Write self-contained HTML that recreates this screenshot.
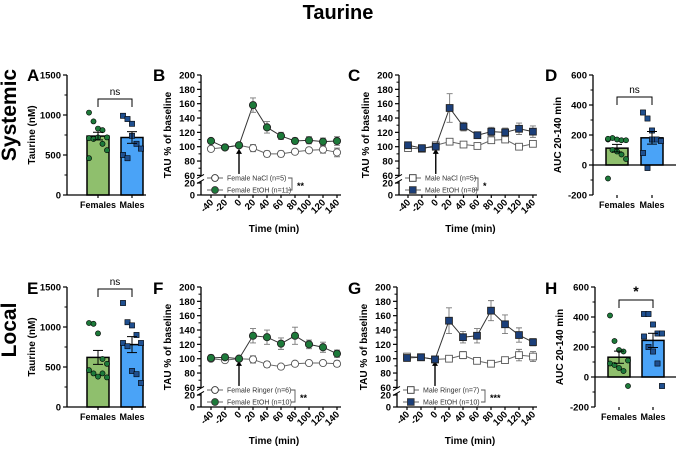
<!DOCTYPE html>
<html><head><meta charset="utf-8"><style>
body{margin:0;background:#fff;}
svg{font-family:"Liberation Sans",Arial,sans-serif;font-weight:bold;}
</style></head><body>
<svg id="fig" width="676" height="448" viewBox="0 0 676 448" xmlns="http://www.w3.org/2000/svg">
<text x="338" y="19" text-anchor="middle" font-size="20">Taurine</text>
<text transform="translate(16,115) rotate(-90)" text-anchor="middle" font-size="21">Systemic</text>
<text transform="translate(16,330) rotate(-90)" text-anchor="middle" font-size="21">Local</text>
</svg>
<script>
// ---- data ----
const times = [-40,-20,0,20,40,60,80,100,120,140];
const timeTicks = ["-40","-20","0","20","40","60","80","100","120","140"];
const barCats = ["Females","Males"];
const concTicks = [0,500,1000,1500];
const aucTicks = [-200,0,200,400,600];
const tauTicks = [60,80,100,120,140,160,180,200];

const A_fem = [1030,920,830,810,720,710,700,720,640,560,460];
const A_mal = [990,950,740,640,580,500,460,890];
const D_fem = [170,180,170,165,165,175,100,90,70,40,-90];
const D_mal = [350,310,230,170,160,80,-20,170];
const E_fem = [1050,1040,920,600,540,460,420,380,420,370];
const E_mal = [1300,1060,1020,900,800,800,760,450,410,300];
const H_fem = [410,240,180,170,110,90,80,60,40,-60];
const H_mal = [420,420,350,290,290,270,200,170,90,-60];

const B_ctl = [97,99,102,98,90,90,93,95,96,92];
const B_ctlErr = [3,2,2,5,4,4,3,3,5,6];
const B_eth = [108,99,102,158,127,115,108,109,107,108];
const B_ethErr = [3,2,2,10,8,5,4,5,5,6];
const C_ctl = [98,97,102,107,103,101,109,110,100,104];
const C_ctlErr = [3,3,3,3,3,3,4,4,4,4];
const C_eth = [102,98,100,154,128,116,121,120,125,121];
const C_ethErr = [3,2,3,20,6,4,6,6,8,8];
const F_ctl = [100,98,100,99,92,89,93,94,94,93];
const F_ctlErr = [3,3,3,5,4,3,3,3,3,4];
const F_eth = [101,102,100,132,130,121,132,120,116,107];
const F_ethErr = [4,3,3,10,10,8,12,6,7,5];
const G_ctl = [103,102,99,100,105,97,93,98,105,103];
const G_ctlErr = [4,3,3,4,5,3,3,4,8,7];
const G_eth = [101,102,99,153,130,132,167,148,133,123];
const G_ethErr = [3,3,3,18,8,10,14,13,10,5];

const svg = document.getElementById('fig');
const NS = 'http://www.w3.org/2000/svg';
function el(tag, attrs, parent, txt){
  const e = document.createElementNS(NS, tag);
  for (const k in attrs) e.setAttribute(k, attrs[k]);
  if (txt !== undefined) e.textContent = txt;
  (parent || svg).appendChild(e);
  return e;
}
function mean(a){return a.reduce((s,v)=>s+v,0)/a.length;}
function sem(a){const m=mean(a);return Math.sqrt(a.reduce((s,v)=>s+(v-m)*(v-m),0)/(a.length-1))/Math.sqrt(a.length);}

function panelLetter(x,y,t){
  const e = el('text',{x:x,y:y,'font-size':17},svg,t);
  
  
}

function barPanel(o){
  const g = el('g',{});
  
  
  const ys = v => o.yBot - (v - o.min)/(o.max - o.min)*(o.yBot - o.yTop);
  el('line',{x1:o.ax,y1:o.yTop,x2:o.ax,y2:o.yBot,stroke:'#000','stroke-width':1.3},g);
  o.ticks.forEach((t,i)=>{
    el('line',{x1:o.ax-4,y1:ys(t),x2:o.ax,y2:ys(t),stroke:'#000','stroke-width':1.2},g);
    const tl = el('text',{x:o.ax-6,y:ys(t)+3.5,'font-size':9.5,'text-anchor':'end'},g,String(t));
    
    
    if(i<o.ticks.length-1){
      const mid=(t+o.ticks[i+1])/2;
      el('line',{x1:o.ax-2.5,y1:ys(mid),x2:o.ax,y2:ys(mid),stroke:'#000','stroke-width':1},g);
    }
  });
  const yt = el('text',{transform:`translate(${o.ax-32},${(o.yTop+o.yBot)/2}) rotate(-90)`,'text-anchor':'middle','font-size':10},g,o.ytitle);
  
  
  const y0 = ys(0);
  const groups=[o.fem,o.mal];
  const fills=['#8fbf6d','#4aa3f7'];
  groups.forEach((d,i)=>{
    const cx=o.cx[i], m=mean(d), s=sem(d);
    const b = el('rect',{x:cx-11,y:Math.min(ys(m),y0),width:22,height:Math.abs(y0-ys(m)),fill:fills[i],stroke:'#000','stroke-width':1.5},g);
    
    
    d.forEach((v,j)=>{
      const jx = cx + ((j%5)-2)*4.5;
      if(i===0){
        const p=el('circle',{cx:jx,cy:ys(v),r:2.6,fill:'#1d7a3a',stroke:'#000','stroke-width':0.6},g);
        
        
      } else {
        const p=el('rect',{x:jx-2.6,y:ys(v)-2.6,width:5.2,height:5.2,fill:'#1f4f8f',stroke:'#000','stroke-width':0.6},g);
        
        
      }
    });
    el('line',{x1:cx,y1:ys(m-s),x2:cx,y2:ys(m+s),stroke:'#000','stroke-width':1},g);
    el('line',{x1:cx-5,y1:ys(m+s),x2:cx+5,y2:ys(m+s),stroke:'#000','stroke-width':1},g);
    el('line',{x1:cx-5,y1:ys(m-s),x2:cx+5,y2:ys(m-s),stroke:'#000','stroke-width':1},g);
    el('line',{x1:cx,y1:o.yBot,x2:cx,y2:o.yBot+3,stroke:'#000','stroke-width':1.2},g);
    const cl=el('text',{x:cx,y:o.yBot+13,'font-size':9,'text-anchor':'middle'},g,barCats[i]);
    
    
  });
  el('line',{x1:o.ax,y1:y0,x2:o.xEnd,y2:y0,stroke:'#000','stroke-width':1.3},g);
  const by=o.brY;
  el('path',{d:`M${o.cx[0]},${by+8} V${by} H${o.cx[1]} V${by+8}`,fill:'none',stroke:'#000','stroke-width':1},g);
  const st=el('text',{x:(o.cx[0]+o.cx[1])/2,y:by-4,'font-size':o.sig==='*'?14:10,'font-weight':o.sig==='*'?'bold':'normal','text-anchor':'middle'},g,o.sig);
  
  
}

function linePanel(o){
  const g = el('g',{});
  
  
  const yTop=o.yTop, yBot=o.yBot;
  const y60 = yTop + (200-60)*0.717;
  const ys = v => v>=60 ? yTop + (200-v)*0.717 : yBot - v*0.6;
  const xs = t => o.x0 + (t+40)*o.kx;
  el('line',{x1:o.ax,y1:yTop,x2:o.ax,y2:y60+1,stroke:'#000','stroke-width':1.3},g);
  el('line',{x1:o.ax,y1:y60+6,x2:o.ax,y2:yBot,stroke:'#000','stroke-width':1.3},g);
  el('line',{x1:o.ax-4,y1:y60+3,x2:o.ax+3,y2:y60-1,stroke:'#000','stroke-width':1},g);
  el('line',{x1:o.ax-4,y1:y60+8,x2:o.ax+3,y2:y60+4,stroke:'#000','stroke-width':1},g);
  tauTicks.concat([0,20]).forEach(t=>{
    el('line',{x1:o.ax-4,y1:ys(t),x2:o.ax,y2:ys(t),stroke:'#000','stroke-width':1.2},g);
    const tl=el('text',{x:o.ax-6,y:ys(t)+3.5,'font-size':9.5,'text-anchor':'end'},g,String(t));
    
    
  });
  for(let v=70; v<200; v+=20) el('line',{x1:o.ax-2.5,y1:ys(v),x2:o.ax,y2:ys(v),stroke:'#000','stroke-width':1},g);
  const yt=el('text',{transform:`translate(${o.ax-30},${(yTop+yBot)/2}) rotate(-90)`,'text-anchor':'middle','font-size':10},g,'TAU % of baseline');
  
  
  el('line',{x1:o.ax,y1:yBot,x2:xs(140)+4,y2:yBot,stroke:'#000','stroke-width':1.3},g);
  times.forEach((t,i)=>{
    el('line',{x1:xs(t),y1:yBot,x2:xs(t),y2:yBot+3,stroke:'#000','stroke-width':1.2},g);
    const tl=el('text',{transform:`translate(${xs(t)+3},${yBot+8}) rotate(-45)`,'font-size':9.5,'text-anchor':'end'},g,timeTicks[i]);
    
    
  });
  const xt=el('text',{x:(xs(-40)+xs(140))/2,y:yBot+37,'font-size':10,'text-anchor':'middle'},g,'Time (min)');
  
  
  const ax0=xs(0);
  el('line',{x1:ax0,y1:ys(62),x2:ax0,y2:ys(94),stroke:'#000','stroke-width':1.4},g);
  el('path',{d:`M${ax0-3},${ys(90)} L${ax0},${ys(97)} L${ax0+3},${ys(90)} Z`,fill:'#000'},g);
  const series=[{v:o.ctl,e:o.ctlErr,fill:'#fff',stroke:'#555',lc:'#666',n:'control'},{v:o.eth,e:o.ethErr,fill:o.col,stroke:'#222',lc:'#333',n:'etoh'}];
  series.forEach(s=>{
    const pts=times.map((t,i)=>xs(t)+','+ys(s.v[i])).join(' ');
    const pl=el('polyline',{points:pts,fill:'none',stroke:s.lc,'stroke-width':1},g);
    
    
    times.forEach((t,i)=>{
      const x=xs(t), y1=ys(s.v[i]+s.e[i]), y2=ys(s.v[i]-s.e[i]);
      el('path',{d:`M${x},${y1} V${y2} M${x-3},${y1} H${x+3} M${x-3},${y2} H${x+3}`,stroke:'#777','stroke-width':0.9,fill:'none'},g);
    });
    times.forEach((t,i)=>{
      let m;
      if(o.shape==='circle') m=el('circle',{cx:xs(t),cy:ys(s.v[i]),r:3.6,fill:s.fill,stroke:s.stroke,'stroke-width':0.9},g);
      else m=el('rect',{x:xs(t)-3.4,y:ys(s.v[i])-3.4,width:6.8,height:6.8,fill:s.fill,stroke:s.stroke,'stroke-width':0.9},g);
      
      
    });
  });
  const lx=o.ax+12, ly1=yBot-17, ly2=yBot-5;
  [[ly1,'#fff',o.leg[0]],[ly2,o.col,o.leg[1]]].forEach((L,k)=>{
    el('line',{x1:lx-6,y1:L[0],x2:lx+10,y2:L[0],stroke:'#666','stroke-width':1},g);
    if(o.shape==='circle') el('circle',{cx:lx+2,cy:L[0],r:3.4,fill:L[1],stroke:'#333','stroke-width':0.9},g);
    else el('rect',{x:lx-1.5,y:L[0]-3.3,width:6.6,height:6.6,fill:L[1],stroke:'#333','stroke-width':0.9},g);
    const lt=el('text',{x:lx+14,y:L[0]+2.7,'font-size':7,'font-weight':'normal',fill:'#333'},g,L[2]);
    
    
  });
  const bx=o.brX;
  el('path',{d:`M${bx-4},${ly1} H${bx} V${ly2} H${bx-4}`,fill:'none',stroke:'#555','stroke-width':0.9},g);
  const st=el('text',{x:bx+5,y:(ly1+ly2)/2+5,'font-size':9},g,o.sig);
  
  
}

panelLetter(27,81,'A'); panelLetter(153,81,'B'); panelLetter(348,81,'C'); panelLetter(545,81,'D');
panelLetter(27,294,'E'); panelLetter(153,294,'F'); panelLetter(348,294,'G'); panelLetter(545,294,'H');

barPanel({name:'panel-a-chart',ax:67,yTop:75,yBot:195,min:0,max:1500,ticks:concTicks,fem:A_fem,mal:A_mal,cx:[98,132],xEnd:146,ytitle:'Taurine (nM)',brY:99,sig:'ns'});
barPanel({name:'panel-d-chart',ax:593,yTop:75,yBot:195,min:-200,max:600,ticks:aucTicks,fem:D_fem,mal:D_mal,cx:[617,652],xEnd:676,ytitle:'AUC 20-140 min',brY:97,sig:'ns'});
barPanel({name:'panel-e-chart',ax:67,yTop:287,yBot:407,min:0,max:1500,ticks:concTicks,fem:E_fem,mal:E_mal,cx:[98,132],xEnd:146,ytitle:'Taurine (nM)',brY:289,sig:'ns'});
barPanel({name:'panel-h-chart',ax:595,yTop:287,yBot:407,min:-200,max:600,ticks:aucTicks,fem:H_fem,mal:H_mal,cx:[619,653],xEnd:676,ytitle:'AUC 20-140 min',brY:300,sig:'*'});

linePanel({name:'panel-b-chart',ax:201,yTop:75,yBot:195,x0:211,kx:0.7,ctl:B_ctl,ctlErr:B_ctlErr,eth:B_eth,ethErr:B_ethErr,col:'#1d7a3a',shape:'circle',leg:['Female NaCl (n=5)','Female EtOH (n=11)'],brX:292,sig:'**'});
linePanel({name:'panel-c-chart',ax:399,yTop:75,yBot:195,x0:408,kx:0.694,ctl:C_ctl,ctlErr:C_ctlErr,eth:C_eth,ethErr:C_ethErr,col:'#1b3f7a',shape:'square',leg:['Male NaCl (n=5)','Male EtOH (n=8)'],brX:478,sig:'*'});
linePanel({name:'panel-f-chart',ax:201,yTop:287,yBot:407,x0:211,kx:0.7,ctl:F_ctl,ctlErr:F_ctlErr,eth:F_eth,ethErr:F_ethErr,col:'#1d7a3a',shape:'circle',leg:['Female  Ringer (n=6)','Female EtOH (n=10)'],brX:295,sig:'**'});
linePanel({name:'panel-g-chart',ax:397,yTop:287,yBot:407,x0:407,kx:0.7,ctl:G_ctl,ctlErr:G_ctlErr,eth:G_eth,ethErr:G_ethErr,col:'#1b3f7a',shape:'square',leg:['Male Ringer (n=7)','Male EtOH (n=10)'],brX:485,sig:'***'});
</script>
</body></html>
